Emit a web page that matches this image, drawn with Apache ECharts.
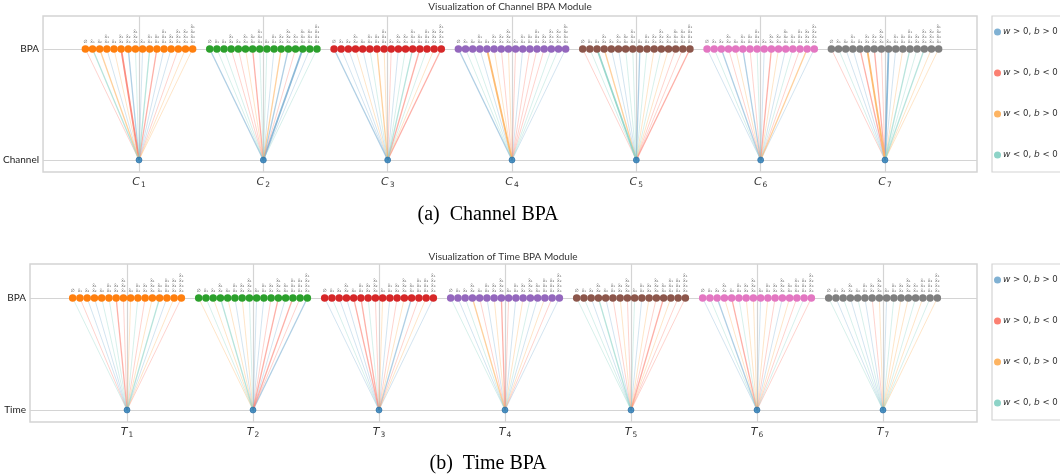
<!DOCTYPE html>
<html>
<head>
<meta charset="utf-8">
<script src="https://cdn.jsdelivr.net/npm/echarts@6/dist/echarts.min.js"></script>
<style>
html, body { margin: 0; background: #fff; }
#chart { width: 1060px; height: 474px; }
</style>
</head>
<body>
<div id="chart"></div>
<script>
// sign categories of each edge (w, b)
var signNames = ['w > 0, b > 0', 'w > 0, b < 0', 'w < 0, b > 0', 'w < 0, b < 0'];
var signColors = ['#80b1d3', '#fb8072', '#fdb462', '#8dd3c7'];
var groupColors = ['#ff7f0e', '#2ca02c', '#d62728', '#9467bd', '#8c564b', '#e377c2', '#7f7f7f'];

// labels of the 16 BPA nodes (subsets of 4 inputs)
var nodeLabels = ['\u2205', 'x\u0304\u2081', 'x\u0304\u2082', 'x\u0304\u2081\nx\u0304\u2082',
  'x\u0304\u2083', 'x\u0304\u2081\nx\u0304\u2083', 'x\u0304\u2082\nx\u0304\u2083', 'x\u0304\u2081\nx\u0304\u2082\nx\u0304\u2083',
  'x\u0304\u2084', 'x\u0304\u2081\nx\u0304\u2084', 'x\u0304\u2082\nx\u0304\u2084', 'x\u0304\u2081\nx\u0304\u2082\nx\u0304\u2084',
  'x\u0304\u2083\nx\u0304\u2084', 'x\u0304\u2081\nx\u0304\u2083\nx\u0304\u2084', 'x\u0304\u2082\nx\u0304\u2083\nx\u0304\u2084',
  'x\u0304\u2081\nx\u0304\u2082\nx\u0304\u2083\nx\u0304\u2084'];

var channelTicks = ['C', 'C', 'C', 'C', 'C', 'C', 'C'];
var timeTicks = ['T', 'T', 'T', 'T', 'T', 'T', 'T'];
var tickIndex = ['1', '2', '3', '4', '5', '6', '7'];

// edge sign per group (0..3 -> signNames), 16 edges each
var chanSign = [
  [1, 3, 2, 0, 2, 1, 0, 3, 0, 3, 1, 0, 0, 1, 2, 2],
  [0, 3, 3, 1, 1, 2, 1, 3, 3, 0, 2, 0, 1, 0, 0, 3],
  [0, 0, 0, 2, 0, 3, 2, 2, 1, 0, 3, 3, 1, 3, 2, 1],
  [0, 3, 3, 0, 2, 2, 1, 2, 1, 0, 1, 1, 1, 3, 3, 0],
  [1, 3, 3, 2, 0, 0, 3, 3, 0, 3, 2, 3, 2, 1, 1, 1],
  [0, 3, 0, 1, 2, 0, 1, 3, 0, 1, 2, 0, 3, 1, 2, 0],
  [1, 3, 0, 0, 1, 2, 1, 1, 0, 0, 2, 3, 3, 3, 2, 2]
];
// edge strength 1 (faint) .. 3 (strong)
var chanWeight = [
  [1, 2, 2, 1, 1, 3, 2, 1, 1, 2, 2, 1, 1, 1, 1, 1],
  [2, 1, 1, 1, 1, 1, 2, 1, 1, 1, 2, 2, 1, 3, 1, 1],
  [2, 1, 1, 1, 1, 1, 2, 1, 1, 1, 1, 2, 2, 1, 1, 2],
  [2, 1, 1, 1, 3, 1, 1, 1, 1, 1, 1, 1, 1, 1, 1, 1],
  [1, 1, 3, 2, 1, 1, 1, 1, 2, 1, 1, 1, 1, 1, 1, 2],
  [1, 1, 2, 1, 1, 2, 1, 1, 1, 2, 1, 1, 1, 1, 2, 1],
  [1, 1, 1, 1, 2, 3, 2, 1, 3, 1, 1, 2, 1, 2, 1, 1]
];
var timeSign = [
  [3, 1, 0, 0, 3, 3, 1, 1, 2, 3, 1, 2, 3, 0, 2, 1],
  [2, 3, 2, 3, 2, 0, 2, 3, 0, 0, 1, 1, 0, 1, 1, 0],
  [0, 3, 0, 0, 1, 1, 3, 1, 2, 0, 1, 2, 0, 1, 2, 0],
  [3, 0, 3, 2, 1, 0, 2, 1, 1, 0, 2, 3, 0, 2, 1, 0],
  [3, 3, 0, 3, 0, 1, 2, 1, 3, 0, 2, 1, 1, 2, 1, 1],
  [0, 3, 0, 2, 1, 3, 2, 2, 0, 2, 1, 0, 2, 1, 3, 1],
  [3, 0, 3, 0, 3, 0, 1, 2, 0, 3, 2, 2, 3, 2, 3, 2]
];
var timeWeight = [
  [1, 1, 1, 1, 1, 1, 2, 1, 1, 1, 1, 1, 2, 1, 1, 1],
  [1, 1, 1, 2, 1, 1, 1, 1, 1, 1, 1, 2, 1, 2, 1, 2],
  [1, 1, 1, 1, 2, 2, 1, 1, 1, 1, 1, 1, 2, 1, 1, 1],
  [1, 1, 1, 2, 1, 1, 1, 2, 1, 1, 1, 1, 1, 1, 1, 1],
  [1, 1, 1, 2, 1, 1, 1, 1, 1, 1, 1, 1, 2, 1, 1, 1],
  [1, 1, 2, 1, 2, 1, 1, 1, 1, 1, 1, 1, 1, 1, 1, 1],
  [1, 1, 1, 1, 1, 1, 1, 1, 1, 1, 1, 1, 1, 1, 1, 1]
];

var alphaOf = [0, 0.35, 0.62, 0.9];
var widthOf = [0, 1, 1.3, 1.8];
var dx = 0.0575;
var font = 'Lato';

var series = [];

function buildPanel(p, signs, weights) {
  for (var c = 0; c < 4; c++) {
    var data = [];
    signs.forEach(function (row, g) {
      row.forEach(function (s, i) {
        if (s !== c) return;
        var w = weights[g][i];
        data.push({
          coords: [[g + 1 + (i - 7.5) * dx, 1], [g + 1, 0]],
          lineStyle: { opacity: alphaOf[w], width: widthOf[w] }
        });
      });
    });
    series.push({
      type: 'lines', name: signNames[c], coordinateSystem: 'cartesian2d',
      xAxisIndex: p, yAxisIndex: p, silent: true, z: 2,
      lineStyle: { color: signColors[c] }, itemStyle: { color: signColors[c] },
      data: data
    });
  }
  signs.forEach(function (row, g) {
    series.push({
      type: 'scatter', xAxisIndex: p, yAxisIndex: p, z: 5, silent: true,
      symbolSize: 7.5,
      itemStyle: { color: groupColors[g], opacity: 1 },
      label: {
        show: true, position: 'top', distance: 1,
        formatter: function (prm) { return nodeLabels[prm.dataIndex]; },
        fontSize: 4.5, lineHeight: 5, color: '#666', fontFamily: 'DejaVu Sans'
      },
      data: row.map(function (s, i) { return [g + 1 + (i - 7.5) * dx, 1]; })
    });
  });
  series.push({
    type: 'scatter', xAxisIndex: p, yAxisIndex: p, z: 6, silent: true,
    symbolSize: 6,
    itemStyle: { color: '#1f77b4', borderColor: '#2b6ea3', borderWidth: 0.8 },
    data: tickIndex.map(function (t, g) { return [g + 1, 0]; })
  });
}

buildPanel(0, chanSign, chanWeight);
buildPanel(1, timeSign, timeWeight);

function xAxisFor(p, letters, min, max) {
  return {
    type: 'value', gridIndex: p, min: min, max: max,
    axisLine: { show: false }, axisTick: { show: false, customValues: [1, 2, 3, 4, 5, 6, 7] },
    splitLine: { show: true, lineStyle: { color: '#d4d4d4', width: 1.2 } },
    axisLabel: {
      customValues: [1, 2, 3, 4, 5, 6, 7], margin: 3,
      formatter: function (v) { return '{c|' + letters[v - 1] + '}{s|' + tickIndex[v - 1] + '}'; },
      rich: {
        c: { fontSize: 11, fontStyle: 'italic', fontFamily: 'DejaVu Sans', color: '#333', lineHeight: 14 },
        s: { fontSize: 7.5, fontFamily: 'DejaVu Sans', color: '#333', padding: [6, 0, 0, 1] }
      }
    }
  };
}

function yAxisFor(p, name, min, max) {
  return {
    type: 'value', gridIndex: p, min: min, max: max,
    axisLine: { show: false }, axisTick: { show: false, customValues: [0, 1] },
    splitLine: { show: true, lineStyle: { color: '#d4d4d4', width: 1.2 } },
    axisLabel: {
      customValues: [0, 1], margin: 4, fontSize: 10, color: '#222', fontFamily: font,
      formatter: function (v) { return v === 1 ? 'BPA' : name; }
    }
  };
}

function legendAt(top) {
  return {
    orient: 'vertical', left: 992, top: top,
    data: signNames.map(function (n) { return { name: n, icon: 'circle' }; }),
    itemWidth: 7, itemHeight: 7, itemGap: 27,
    padding: [9, 4, 10, 2],
    borderColor: '#d4d4d4', borderWidth: 1.2,
    selectedMode: false,
    formatter: function (n) { return n.replace('w', '{i|w}').replace('b', '{i|b}'); },
    textStyle: {
      fontSize: 8.6, color: '#333', fontFamily: 'DejaVu Sans', lineHeight: 14, padding: [0, 0, 0, -3],
      rich: { i: { fontStyle: 'italic', fontSize: 9, fontFamily: 'DejaVu Sans', color: '#333' } }
    }
  };
}

var chart = echarts.init(document.getElementById('chart'));
var option = {
  animation: false,
  title: [
    { text: 'Visualization of Channel BPA Module', left: 510, top: 2, padding: 0, textAlign: 'center',
      textStyle: { fontSize: 10, fontWeight: 'normal', color: '#333', fontFamily: font } },
    { text: 'Visualization of Time BPA Module', left: 503, top: 252, padding: 0, textAlign: 'center',
      textStyle: { fontSize: 10, fontWeight: 'normal', color: '#333', fontFamily: font } },
    { text: '(a)  Channel BPA', left: 483, top: 200, textAlign: 'center',
      textStyle: { fontSize: 20, fontWeight: 'normal', color: '#000', fontFamily: 'Liberation Serif' } },
    { text: '(b)  Time BPA', left: 483, top: 449, textAlign: 'center',
      textStyle: { fontSize: 20, fontWeight: 'normal', color: '#000', fontFamily: 'Liberation Serif' } }
  ],
  legend: [legendAt(16), legendAt(264)],
  grid: [
    { left: 43, top: 16, width: 934, height: 156, show: true, borderColor: '#d4d4d4', borderWidth: 1.5 },
    { left: 30, top: 264, width: 947, height: 158, show: true, borderColor: '#d4d4d4', borderWidth: 1.5 }
  ],
  xAxis: [xAxisFor(0, channelTicks, 0.228, 7.74), xAxisFor(1, timeTicks, 0.23, 7.746)],
  yAxis: [yAxisFor(0, 'Channel', -0.108, 1.297), yAxisFor(1, 'Time', -0.107, 1.304)],
  series: series
};
chart.setOption(option);
</script>
</body>
</html>
